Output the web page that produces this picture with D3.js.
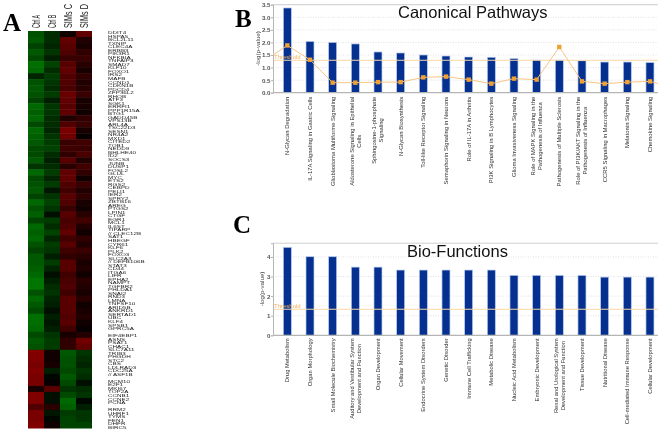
<!DOCTYPE html>
<html>
<head>
<meta charset="utf-8">
<script src="https://cdn.jsdelivr.net/npm/d3@7"></script>
<style>
  html, body { margin: 0; padding: 0; background: #fff; }
  /* the source figure is a soft, resampled image */
  svg { display: block; font-family: "Liberation Sans", Arial, sans-serif; filter: blur(.35px); }
</style>
</head>
<body>
<div id="figure"></div>
<script>
// panel A, log ratios read by eye (green < 0 < red), one value per row band
let sampleNames = ['Ctrl A', 'Ctrl B', 'SIMs C', 'SIMs D'];
let ctrlA = [-.55,-.6,-.45,-.6,-.5,-.75,-.7,-.25,-.55,-.6,-.55,-.45,-.7,-.65,-.7,-.5,-.7,-.65,-.6,-.5,-.5,-.6,-.35,-.7,-.5,-.55,-.6,-.45,-.7,-.55,-.65,-.45,-.7,-.65,-.7,-.55,-.45,-.6,-.6,-.65,-.7,-.8,-.8,-.55,-.7,-.6,-.5,-.75,-.75,-.7,-.5,-.6,-.55,
  .8,.8,.75,.8,.75,.75,.15,.8,.8,.5,.75,.75,.8];
let ctrlB = [-.3,-.3,-.25,-.35,-.2,-.45,-.3,-.4,-.35,-.3,-.4,-.2,-.35,-.35,-.3,-.3,-.25,-.35,-.4,-.45,-.3,-.2,-.3,-.4,-.25,-.4,-.15,-.35,-.45,-.35,-.1,-.4,-.3,-.45,-.25,-.4,-.35,-.2,-.4,-.25,-.1,-.2,-.3,-.35,-.25,-.2,-.1,-.2,-.15,-.2,-.35,-.4,-.4,
  .1,.1,.15,-.2,-.05,.05,.55,-.1,-.1,.25,-.15,-.05,.1];
let simsC = [.1,.6,.55,.5,.35,.55,.6,.5,.5,.45,.65,.6,.55,.6,.2,.5,.75,.7,.35,.4,.3,.55,.25,.6,.6,.5,.4,.55,.5,.35,.55,.45,.5,.6,.4,.55,.4,.3,.55,.55,.4,.45,.5,.4,.55,.55,.55,.5,.55,.4,.15,.3,.3,
  -.6,-.55,-.55,-.5,-.6,-.5,-.35,-.5,-.7,-.65,-.4,-.45,-.45];
let simsD = [.6,.2,.15,.3,.35,.25,.15,.3,.2,.25,.35,.15,.15,.1,.3,.35,.15,.05,.4,.35,.45,.2,.4,.3,.1,.35,.2,.3,.15,.1,.25,.4,.2,.1,.3,.2,.35,.25,.15,.2,.1,.25,.2,.15,.25,.1,.15,.2,.1,.05,.2,.7,.6,
  -.35,-.3,-.25,-.35,-.3,-.1,-.3,-.35,-.05,-.2,-.35,-.35,-.45];
let heatColumns = [ctrlA, ctrlB, simsC, simsD];

// too small to read in the source, so these are best guesses
let geneLabels = ['DDIT4','HSPA5','BCL2L11','TXNIP','CLEC4A','ERBB3','PIK3R1','NFKBIA','TNFAIP3','SMAD7','KLF10','FOXO1','IRS2','MAFB','CCND1','CDKN1B','PDCD4','ZFP36L2','RHOB','ATF3','SGK1','ERRFI1','PPP1R15A','BTG1','GADD45B','VPS13B','ARL4A','TSC22D3','SESN1','NR4A2','MXD1','CITED2','TOB1','NEDD9','BHLHE40','ID2','SOCS3','JUNB','DUSP1','FOSL2','GLUL','MYC','ETS2','RGS2','CEBPD','PELI1','IER2','SPRY2','ZBTB16','AREG','PTGS2','LPIN1','CTGF','EGR1','MCL1','IL6ST','TIPARP','// CLEC12B','SAT1','HBEGF','CYR61','KLF6','PLK2','FOXO3','SLC2A3','// DEFB106B','STAT3','CD44','ITGA6','LIFR','EPHA2','NAMPT','TGFBR2','PHLDA1','SNAI2','RND3','LMNA','TNFSF10','ARID5B','ANKRD1','SERTAD1','UBC','KLF4','SPSB1','GPRC5A','','EIF4EBP1','ASNS','PSAT1','CHAC1','SLC7A11','TRIB3','PHGDH','STC2','CBS','LDLRAD3','CDC25A','// ASF1B','','MCM10','E2F1','MKI67','TOP2A','CCNB1','CCNE2','PCNA','','RRM2','UHRF1','TYMS','FEN1','DHFR','BIRC5'];

// panel B
let pathwayNames = ['N-Glycan Degradation','IL-17A Signaling in Gastric Cells','Glioblastoma Multiforme Signaling','Aldosterone Signaling in Epithelial\nCells','Sphingosine-1-phosphate\nSignaling','N-Glycan Biosynthesis','Toll-like Receptor Signaling','Semaphorin Signaling in Neurons','Role of IL-17A in Arthritis','PI3K Signaling in B Lymphocytes','Glioma Invasiveness Signaling','Role of MAPK Signaling in the\nPathogenesis of Influenza','Pathogenesis of Multiple Sclerosis','Role of PI3K/AKT Signaling in the\nPathogenesis of Influenza','CCR5 Signaling in Macrophages','Melatonin Signaling','Chemokine Signaling'];
let pathwayLogP = [3.37,2.04,2.0,1.94,1.62,1.58,1.5,1.46,1.42,1.41,1.36,1.3,1.3,1.27,1.22,1.22,1.2];
let pathwayRatio = [1.88,1.31,.4,.4,.42,.42,.61,.64,.52,.36,.56,.52,1.82,.45,.36,.42,.45];
let pathwayTicks = [0,.5,1,1.5,2,2.5,3,3.5];
let pathwayThreshold = 1.29;
let ratioLeadIn = 1.5, ratioLeadOut = .37;

// panel C
let functionNames = ['Drug Metabolism','Organ Morphology','Small Molecule Biochemistry','Auditory and Vestibular System\nDevelopment and Function','Organ Development','Cellular Movement','Endocrine System Disorders','Genetic Disorder','Immune Cell Trafficking','Metabolic Disease','Nucleic Acid Metabolism','Embryonic Development','Renal and Urological System\nDevelopment and Function','Tissue Development','Nutritional Disease','Cell-mediated Immune Response','Cellular Development'];
let functionLogP = [4.49,4.01,4.01,3.48,3.48,3.33,3.33,3.33,3.33,3.33,3.06,3.06,3.06,3.06,2.97,2.97,2.97];
let functionTicks = [0,1,2,3,4];
let functionThreshold = 1.33;

let svg = d3.select('#figure').append('svg')
  .attr('width', 661)
  .attr('height', 432);

// panel letters
[['A', 3, 31], ['B', 235, 27], ['C', 233, 233]].forEach(d => {
  svg.append('text')
    .attr('x', d[1])
    .attr('y', d[2])
    .style('font-family', '"Liberation Serif", serif')
    .style('font-weight', 'bold')
    .style('font-size', '25px')
    .text(d[0]);
});

// heatmap
let heatX = d3.scaleBand().domain(d3.range(4)).range([28, 92]);
let heatY = d3.scaleBand().domain(d3.range(ctrlA.length)).range([31, 428]);
let heatColor = d3.scaleLinear()
  .domain([-1, 0, 1])
  .range(['#009400', '#000000', '#a00000']);

let heat = svg.append('g').attr('class', 'heatmap');
heatColumns.forEach((col, c) => {
  heat.append('g').selectAll('rect')
    .data(col)
    .enter().append('rect')
      .attr('x', heatX(c))
      .attr('y', (d, i) => heatY(i))
      .attr('width', heatX.bandwidth())
      .attr('height', heatY.bandwidth() + .5)
      .style('fill', d => heatColor(d));
});

// sample names are tall and squeezed in the source
svg.append('g').selectAll('text')
  .data(sampleNames)
  .enter().append('text')
    .attr('transform', (d, i) => `translate(${heatX(i) + heatX.bandwidth() / 2 + 3.5}, 28) rotate(-90) scale(${i < 2 ? .54 : .73}, 1)`)
    .style('font-size', '10px')
    .style('fill', '#222')
    .text(d => d);

let geneY = d3.scaleBand().domain(d3.range(geneLabels.length)).range([31, 429]);
svg.append('g').selectAll('text')
  .data(geneLabels)
  .enter().append('text')
    .attr('transform', (d, i) => `translate(108, ${geneY(i) + 3.2}) scale(1.5, 1)`)
    .style('font-size', '4.2px')
    .style('fill', '#222')
    .text(d => d);

// bar chart with threshold, used by B and C
function barPanel(o) {
  let x = d3.scaleBand().domain(o.names).range([276, 661.3]);
  let y = d3.scaleLinear().domain([0, o.yMax]).range([o.y0, o.yTop]);
  let g = svg.append('g');
  let left = 273, right = 658;

  // dotted grid and frame
  g.append('g').selectAll('line')
    .data(o.ticks.filter(d => d > 0))
    .enter().append('line')
      .attr('x1', left).attr('x2', right)
      .attr('y1', d => y(d)).attr('y2', d => y(d))
      .style('stroke', '#d4d4d4')
      .style('stroke-width', .7)
      .style('stroke-dasharray', '1,1.5');
  g.append('line')
    .attr('x1', left).attr('x2', right)
    .attr('y1', o.yTop).attr('y2', o.yTop)
    .style('stroke', '#cfcfcf')
    .style('stroke-width', 1);

  g.selectAll('.bar')
    .data(o.values)
    .enter().append('rect')
      .attr('class', 'bar')
      .attr('x', (d, i) => x(o.names[i]) + x.bandwidth() / 2 - 4)
      .attr('y', d => y(d))
      .attr('width', 8)
      .attr('height', d => y(0) - y(d))
      .style('fill', '#05308f')
      .style('stroke', '#b9cbf0')
      .style('stroke-width', .7);

  // threshold
  g.append('line')
    .attr('x1', left).attr('x2', right)
    .attr('y1', y(o.threshold)).attr('y2', y(o.threshold))
    .style('stroke', '#f8d7a4')
    .style('stroke-width', 1);
  g.append('text')
    .attr('x', 274)
    .attr('y', y(o.threshold) - 1.5)
    .style('font-size', '6px')
    .style('fill', '#f0b25e')
    .text('Threshold');

  // axes
  let yAxis = g.append('g')
    .attr('transform', `translate(${left}, 0)`)
    .call(d3.axisLeft(y).tickValues(o.ticks).tickSize(2).tickFormat(o.tickFormat));
  yAxis.selectAll('path, line').style('stroke', '#b5b5b5');
  yAxis.selectAll('text')
    .attr('x', -2.5)
    .style('font-size', '6.2px')
    .style('font-weight', 'bold')
    .style('font-family', '"Liberation Sans", sans-serif')
    .style('fill', '#555');

  let xAxis = g.append('g')
    .attr('transform', `translate(0, ${o.y0})`)
    .call(d3.axisBottom(x).tickSize(0));
  xAxis.select('.domain')
    .attr('d', `M${left},0H${right}`)
    .style('stroke', '#b5b5b5')
    .style('stroke-width', 1.3);
  xAxis.selectAll('.tick text').each(function(d) {
    let text = d3.select(this).text(null)
      .attr('y', null)
      .attr('dy', null)
      .attr('transform', `translate(0, ${o.labelGap}) rotate(-90)`)
      .attr('text-anchor', 'end')
      .style('font-size', o.labelSize)
      .style('fill', '#333');
    let lines = d.split('\n');
    let spans = lines.map((line, i) => text.append('tspan')
      .attr('y', lines.length > 1 ? -1.5 + i * 7 : 2)
      .text(line));
    // wrapped labels are centred on their longest line
    let widths = spans.map(s => s.node().getComputedTextLength());
    spans.forEach((s, i) => s.attr('x', -(d3.max(widths) - widths[i]) / 2));
  });

  g.append('text')
    .attr('transform', `translate(${o.yLabelX}, ${(o.yLabelCenter)}) rotate(-90)`)
    .attr('text-anchor', 'middle')
    .style('font-size', '6.2px')
    .style('fill', '#444')
    .text('-log(p-value)');

  g.append('text')
    .attr('x', o.titleX)
    .attr('y', o.titleY)
    .style('font-size', '16.5px')
    .style('fill', '#111')
    .text(o.title);

  return {x, y, g, left, right};
}

let panelB = barPanel({
  names: pathwayNames, values: pathwayLogP, ticks: pathwayTicks,
  threshold: pathwayThreshold, yMax: 3.5, y0: 92.7, yTop: 4.7,
  tickFormat: d3.format('.1f'), labelGap: 4, labelSize: '5.9px', yLabelX: 260, yLabelCenter: 48.5,
  title: 'Canonical Pathways', titleX: 398, titleY: 18
});

barPanel({
  names: functionNames, values: functionLogP, ticks: functionTicks,
  threshold: functionThreshold, yMax: 4.7, y0: 335.3, yTop: 243.2,
  tickFormat: d3.format('d'), labelGap: 3, labelSize: '5.8px', yLabelX: 264, yLabelCenter: 289,
  title: 'Bio-Functions', titleX: 407, titleY: 257
});

// ratio line on B runs off both ends of the plot
let ratioX = (d, i) => panelB.x(pathwayNames[i]) + panelB.x.bandwidth() / 2;
let ratioPoints = pathwayRatio.map((d, i) => [ratioX(d, i), panelB.y(d)]);
ratioPoints.unshift([panelB.left, panelB.y(ratioLeadIn)]);
ratioPoints.push([panelB.right, panelB.y(ratioLeadOut)]);

panelB.g.append('path')
  .attr('d', d3.line()(ratioPoints))
  .style('fill', 'none')
  .style('stroke', '#f6c583')
  .style('stroke-width', 1);

panelB.g.selectAll('.ratio')
  .data(pathwayRatio)
  .enter().append('rect')
    .attr('class', 'ratio')
    .attr('x', (d, i) => ratioX(d, i) - 2.2)
    .attr('y', d => panelB.y(d) - 2.2)
    .attr('width', 4.4)
    .attr('height', 4.4)
    .style('fill', '#f0a133');
</script>
</body>
</html>
